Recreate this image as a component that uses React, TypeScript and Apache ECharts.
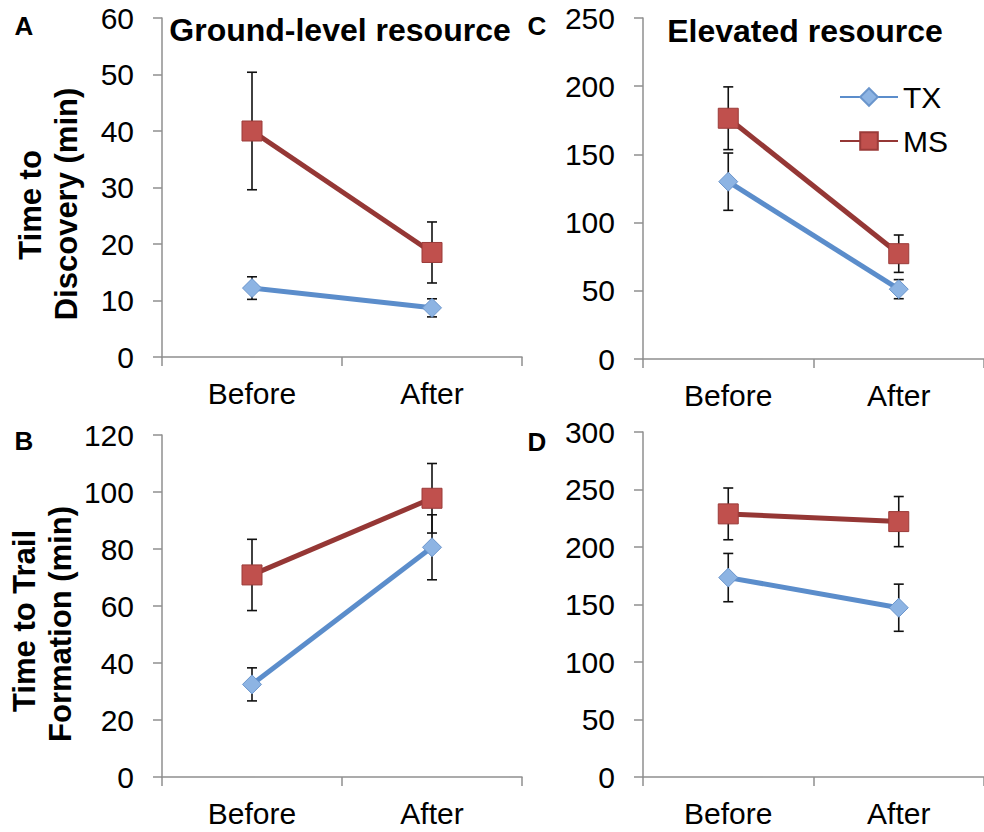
import React, { useEffect, useRef } from "react";
import * as echarts from "echarts";

const categories = ["Before", "After"];

// Panel A: ground-level resource, time to discovery (min)
const groundDiscTX = [12.2, 8.7];
const groundDiscTXErr = [2.0, 1.6];
const groundDiscMS = [40.0, 18.5];
const groundDiscMSErr = [10.4, 5.4];

// Panel B: ground-level resource, time to trail formation (min)
const groundTrailTX = [32.5, 80.6];
const groundTrailTXErr = [5.8, 11.4];
const groundTrailMS = [70.9, 97.8];
const groundTrailMSErr = [12.5, 12.2];

// Panel C: elevated resource, time to discovery (min)
const elevDiscTX = [130.0, 51.2];
const elevDiscTXErr = [21.0, 7.0];
const elevDiscMS = [176.5, 77.2];
const elevDiscMSErr = [23.0, 13.7];

// Panel D: elevated resource, time to trail formation (min)
const elevTrailTX = [173.4, 147.2];
const elevTrailTXErr = [21.0, 20.5];
const elevTrailMS = [228.8, 222.1];
const elevTrailMSErr = [22.5, 21.8];

const yMax = [60, 120, 250, 300];
const yInterval = [10, 20, 50, 50];

const FONT = "'Liberation Sans', Arial, Helvetica, sans-serif";
const AXIS_COLOR = "#8f8f8f";

const TX_LINE = "#5b8dcb";
const TX_FILL = "#8db4e3";
const TX_BORDER = "#6a95cc";
const MS_LINE = "#953735";
const MS_FILL = "#c0504d";
const MS_BORDER = "#9b3b39";

function errData(vals: number[], errs: number[]) {
  return vals.map((v, i) => [i, v - errs[i], v + errs[i]]);
}

const errRender = (params: any, api: any) => {
  const x = api.value(0);
  const lo = api.coord([x, api.value(1)]);
  const hi = api.coord([x, api.value(2)]);
  const hw = 5;
  const st = { stroke: "#111", lineWidth: 1.6 };
  return {
    type: "group",
    children: [
      { type: "line", shape: { x1: lo[0], y1: lo[1], x2: hi[0], y2: hi[1] }, style: st },
      { type: "line", shape: { x1: lo[0] - hw, y1: lo[1], x2: lo[0] + hw, y2: lo[1] }, style: st },
      { type: "line", shape: { x1: hi[0] - hw, y1: hi[1], x2: hi[0] + hw, y2: hi[1] }, style: st },
    ],
  };
};

export default function App() {
  const ref = useRef<HTMLDivElement>(null);

  useEffect(() => {
    if (!ref.current) return;
    const chart = echarts.init(ref.current, null, { renderer: "svg" });

    const grids = [
      { left: 162, top: 18, width: 360, height: 339 },
      { left: 162, top: 435, width: 360, height: 342 },
      { left: 643, top: 18, width: 348, height: 341 },
      { left: 643, top: 432, width: 348, height: 345 },
    ];

    const xAxes = grids.map((_, i) => ({
      type: "category",
      gridIndex: i,
      data: categories,
      boundaryGap: true,
      axisLine: { lineStyle: { color: AXIS_COLOR, width: 1.5 } },
      axisTick: { show: true, inside: false, length: 9, alignWithLabel: false, lineStyle: { color: AXIS_COLOR, width: 1.5 } },
      axisLabel: { color: "#000", fontSize: 30, fontFamily: FONT, margin: 21 },
      splitLine: { show: false },
    }));

    const yAxes = grids.map((_, i) => ({
      type: "value",
      gridIndex: i,
      min: 0,
      max: yMax[i],
      interval: yInterval[i],
      axisLine: { show: true, lineStyle: { color: AXIS_COLOR, width: 1.5 } },
      axisTick: { show: true, inside: false, length: 9, lineStyle: { color: AXIS_COLOR, width: 1.5 } },
      axisLabel: { color: "#000", fontSize: 30, fontFamily: FONT, margin: 28 },
      splitLine: { show: false },
    }));

    const panels = [
      { tx: groundDiscTX, txE: groundDiscTXErr, ms: groundDiscMS, msE: groundDiscMSErr },
      { tx: groundTrailTX, txE: groundTrailTXErr, ms: groundTrailMS, msE: groundTrailMSErr },
      { tx: elevDiscTX, txE: elevDiscTXErr, ms: elevDiscMS, msE: elevDiscMSErr },
      { tx: elevTrailTX, txE: elevTrailTXErr, ms: elevTrailMS, msE: elevTrailMSErr },
    ];

    const series: any[] = [];
    panels.forEach((p, i) => {
      series.push({
        type: "custom",
        name: "errTX" + i,
        xAxisIndex: i,
        yAxisIndex: i,
        renderItem: errRender,
        encode: { x: 0, y: [1, 2] },
        data: errData(p.tx, p.txE),
        z: 1,
        silent: true,
      });
      series.push({
        type: "custom",
        name: "errMS" + i,
        xAxisIndex: i,
        yAxisIndex: i,
        renderItem: errRender,
        encode: { x: 0, y: [1, 2] },
        data: errData(p.ms, p.msE),
        z: 1,
        silent: true,
      });
      series.push({
        type: "line",
        name: "TX",
        xAxisIndex: i,
        yAxisIndex: i,
        data: p.tx,
        symbol: "diamond",
        symbolSize: [19, 19],
        lineStyle: { color: TX_LINE, width: 5 },
        itemStyle: { color: TX_FILL, borderColor: TX_BORDER, borderWidth: 1 },
        z: 3,
      });
      series.push({
        type: "line",
        name: "MS",
        xAxisIndex: i,
        yAxisIndex: i,
        data: p.ms,
        symbol: "rect",
        symbolSize: 20,
        lineStyle: { color: MS_LINE, width: 5 },
        itemStyle: { color: MS_FILL, borderColor: MS_BORDER, borderWidth: 1 },
        z: 4,
      });
    });

    const bold = (text: string, x: number, y: number, size: number, rot = 0) => ({
      type: "text",
      x,
      y,
      rotation: rot,
      style: {
        text,
        fill: "#000",
        fontSize: size,
        fontWeight: "bold",
        fontFamily: FONT,
        textAlign: "center",
        textVerticalAlign: "middle",
      },
    });

    chart.setOption({
      animation: false,
      backgroundColor: "#fff",
      grid: grids,
      xAxis: xAxes,
      yAxis: yAxes,
      series,
      legend: {
        data: ["TX", "MS"],
        orient: "vertical",
        left: 834,
        top: 77,
        itemWidth: 58,
        itemHeight: 22,
        itemGap: 14,
        textStyle: { color: "#000", fontSize: 30, fontFamily: FONT },
      },
      graphic: [
        bold("A", 24, 26, 26),
        bold("B", 24, 441, 26),
        bold("C", 537, 26, 26),
        bold("D", 537, 442, 26),
        bold("Ground-level resource", 340, 30, 32),
        bold("Elevated resource", 805, 31, 32),
        bold("Time to", 30, 205, 31, Math.PI / 2),
        bold("Discovery (min)", 66, 204, 31, Math.PI / 2),
        bold("Time to Trail", 24, 621, 31, Math.PI / 2),
        bold("Formation (min)", 60, 624, 31, Math.PI / 2),
      ],
    });

    return () => chart.dispose();
  }, []);

  return (
    <div
      ref={ref}
      style={{ position: "fixed", left: 0, top: 0, width: 984, height: 832, background: "#fff" }}
    />
  );
}
